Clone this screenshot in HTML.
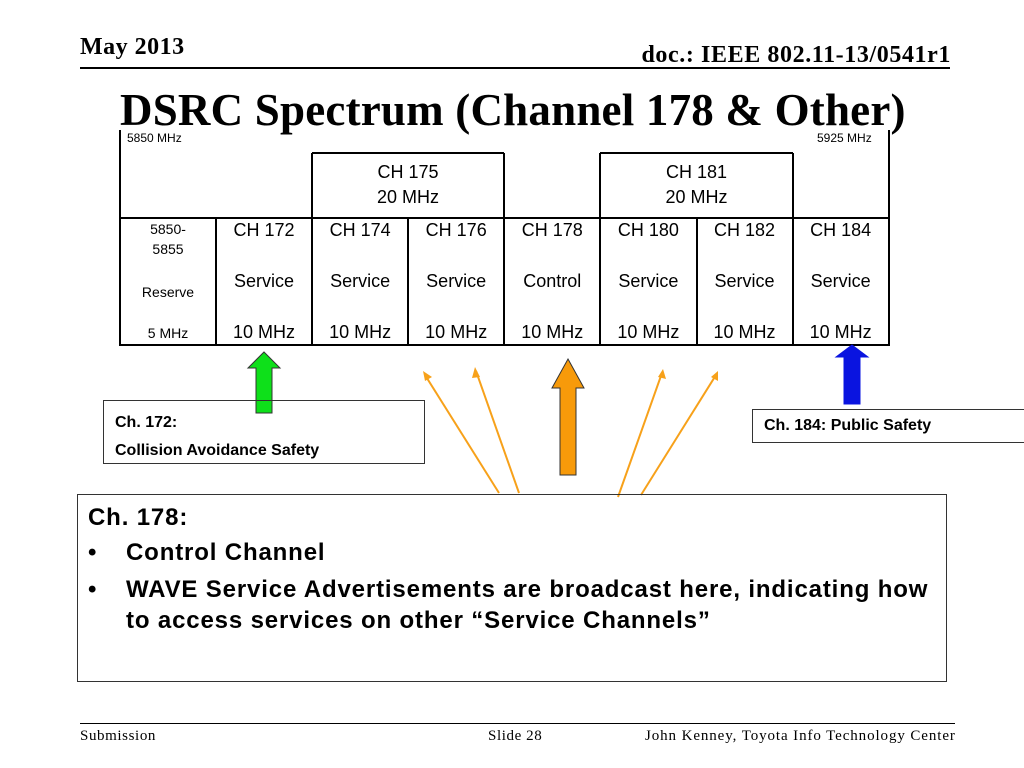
<!DOCTYPE html>
<html><head><meta charset="utf-8"><style>
body{margin:0;width:1024px;height:768px;background:#fff;position:relative;overflow:hidden;font-family:"Liberation Sans",sans-serif}
.a{position:absolute}
.serif{font-family:"Liberation Serif",serif}
.cell{position:absolute;box-sizing:border-box;text-align:center;color:#000}
</style></head><body>
<div class="a serif" style="left:80px;top:34px;font-size:24px;font-weight:bold;letter-spacing:0.5px">May 2013</div>
<div class="a serif" style="right:73px;top:42px;font-size:24px;font-weight:bold;letter-spacing:0.6px">doc.: IEEE 802.11-13/0541r1</div>
<div class="a" style="left:80px;top:67px;width:870px;height:2px;background:#000"></div>
<svg class="a" style="left:0;top:0" width="1024" height="768">
<g stroke="#000" stroke-width="2" fill="none">
<polyline points="120,130 120,345 889,345 889,130"/>
<line x1="120" y1="218" x2="889" y2="218"/>
<line x1="216" y1="218" x2="216" y2="345"/><line x1="312" y1="153" x2="312" y2="345"/>
<line x1="408" y1="218" x2="408" y2="345"/><line x1="504" y1="153" x2="504" y2="345"/>
<line x1="600" y1="153" x2="600" y2="345"/><line x1="697" y1="218" x2="697" y2="345"/>
<line x1="793" y1="153" x2="793" y2="345"/>
<line x1="312" y1="153" x2="504" y2="153"/><line x1="600" y1="153" x2="793" y2="153"/>
</g>
<g stroke="#f7a11a" stroke-width="2" fill="#f7a11a">
<line x1="499" y1="493" x2="425" y2="375"/><line x1="519" y1="493" x2="476" y2="371"/>
<line x1="618" y1="497" x2="662" y2="373"/><line x1="641" y1="495" x2="716" y2="375"/>
<polygon points="423,371 432,377 425,381" stroke="none"/><polygon points="475,367 480,377 472,378" stroke="none"/>
<polygon points="663,369 666,379 658,377" stroke="none"/><polygon points="718,371 718,381 711,377" stroke="none"/>
</g>
<polygon points="264,352 280,368 272,368 272,413 256,413 256,368 248,368" fill="#0ee01a" stroke="#333" stroke-width="1"/>
<polygon points="568,359 584,388 576,388 576,475 560,475 560,388 552,388" fill="#f79a0a" stroke="#333" stroke-width="1"/>
<polygon points="852,345 868,357 860,357 860,404 844,404 844,357 836,357" fill="#0a14e0" stroke="#0a14e0" stroke-width="1"/>
</svg>
<div class="a serif" style="left:120px;top:84px;font-size:45px;font-weight:bold;letter-spacing:0.2px">DSRC Spectrum (Channel 178 &amp; Other)</div>
<div class="a" style="left:127px;top:131px;font-size:12px">5850 MHz</div>
<div class="a" style="left:817px;top:131px;font-size:12px">5925 MHz</div>
<div class="cell" style="left:312px;top:160px;width:192px;font-size:18px;line-height:25px">CH 175<br>20 MHz</div>
<div class="cell" style="left:600px;top:160px;width:193px;font-size:18px;line-height:25px">CH 181<br>20 MHz</div>
<div class="cell" style="left:120px;top:219px;width:96px;font-size:14px;line-height:20px">5850-<br>5855<br><div style="margin-top:23px">Reserve</div><div style="margin-top:21px">5 MHz</div></div>
<div id="chs"></div>
<div class="a" style="left:103px;top:400px;width:322px;height:64px;box-sizing:border-box;border:1px solid #333;font-size:16px;font-weight:bold;padding:8px 0 0 11px;line-height:28px">Ch. 172:<br>Collision Avoidance Safety</div>
<div class="a" style="left:752px;top:409px;width:273px;height:34px;box-sizing:border-box;border:1px solid #333;font-size:16px;font-weight:bold;padding:7px 0 0 11px">Ch. 184: Public Safety</div>
<div class="a" style="left:77px;top:494px;width:870px;height:188px;box-sizing:border-box;border:1px solid #333;font-size:24px;letter-spacing:0.85px;font-weight:bold;padding:7px 0 0 10px;line-height:31px">
<div>Ch. 178:</div>
<div style="position:relative;padding-left:38px;margin-top:4px"><span style="position:absolute;left:0">•</span>Control Channel</div>
<div style="position:relative;padding-left:38px;margin-top:6px;white-space:nowrap"><span style="position:absolute;left:0">•</span>WAVE Service Advertisements are broadcast here, indicating how<br>to access services on other “Service Channels”</div>
</div>
<div class="a" style="left:80px;top:723px;width:875px;height:1px;background:#000"></div>
<div class="a serif" style="left:80px;top:728px;font-size:15px;letter-spacing:0.6px">Submission</div>
<div class="a serif" style="left:488px;top:728px;font-size:15px;letter-spacing:0.6px">Slide 28</div>
<div class="a serif" style="left:645px;top:728px;font-size:15px;letter-spacing:0.9px">John Kenney, Toyota Info Technology Center</div>
<script>
const channels=["CH 172","CH 174","CH 176","CH 178","CH 180","CH 182","CH 184"];
const roles=["Service","Service","Service","Control","Service","Service","Service"];
const widths=["10 MHz","10 MHz","10 MHz","10 MHz","10 MHz","10 MHz","10 MHz"];
const host=document.getElementById('chs');
channels.forEach((c,i)=>{
  const d=document.createElement('div');
  d.className='cell';
  
  
  d.style.cssText=`left:${216+i*96.1}px;top:219px;width:96px;font-size:18px;line-height:22px`;
  d.innerHTML=`${c}<div style="margin-top:29px">${roles[i]}</div><div style="margin-top:29px">${widths[i]}</div>`;
  host.appendChild(d);
});
</script>
</body></html>
